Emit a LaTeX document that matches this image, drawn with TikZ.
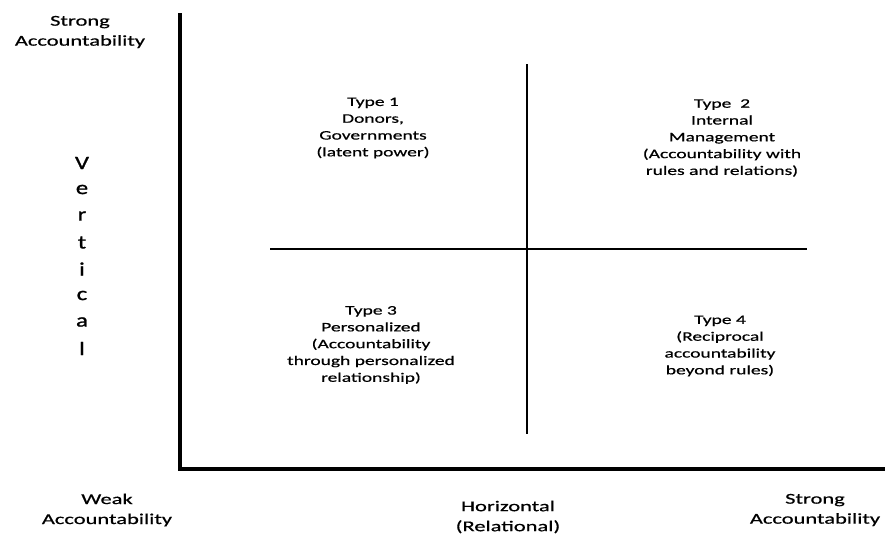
\documentclass[tikz,border=0pt]{standalone}
\usepackage{fontspec}
\setmainfont{Carlito}[FakeStretch=1.5,FakeBold=0.6]
\newfontfamily\vertfont{Carlito}[FakeStretch=1.3,FakeBold=1.2]
\tikzset{
  axisline/.style={line width=3.4pt, line cap=rect, black},
  quadline/.style={line width=2.7pt, black},
  axislabel/.style={align=center, inner sep=0pt, font=\fontsize{15}{20}\selectfont},
  quadlabel/.style={align=center, inner sep=0pt, font=\fontsize{13}{16.8}\selectfont},
  vletter/.style={inner sep=0pt, font=\vertfont\fontsize{19}{19}\selectfont}
}
\begin{document}
\begin{tikzpicture}[x=1pt,y=-1pt]
\useasboundingbox (0,0) rectangle (885,536);
% axes
\coordinate (top) at (180,15);
\coordinate (corner) at (180,469);
\coordinate (right) at (885,469);
\draw[axisline] (top) -- (corner) -- (right);
% quadrant lines
\coordinate (vt) at (527,64);
\coordinate (vb) at (527,434);
\coordinate (hl) at (270,249);
\coordinate (hr) at (807,249);
\draw[quadline] (vt) -- (vb);
\draw[quadline] (hl) -- (hr);
% axis labels
\node[axislabel] (strongtop) at (80,32) {Strong\\Accountability};
\node[axislabel] (weak) at (107,510) {Weak\\Accountability};
\node[axislabel] (horiz) at (508,517) {Horizontal\\(Relational)};
\node[axislabel] (strongright) at (815,510) {Strong\\Accountability};
% vertical letters
\foreach \l [count=\i from 0] in {V,e,r,t,i,c,a,l} {
  \node[vletter] (v\i) at (82,{163+26.5*\i}) {\l};
}
% quadrants
\node[quadlabel] (t1) at (373,128) {Type 1\\Donors,\\Governments\\(latent power)};
\node[quadlabel] (t2) at (722,138) {Type\ \ 2\\Internal\\Management\\(Accountability with\\rules and relations)};
\node[quadlabel] (t3) at (371,345) {Type 3\\Personalized\\(Accountability\\through personalized\\relationship)};
\node[quadlabel] (t4) at (720,346) {Type 4\\(Reciprocal\\accountability\\beyond rules)};
\end{tikzpicture}
\end{document}
